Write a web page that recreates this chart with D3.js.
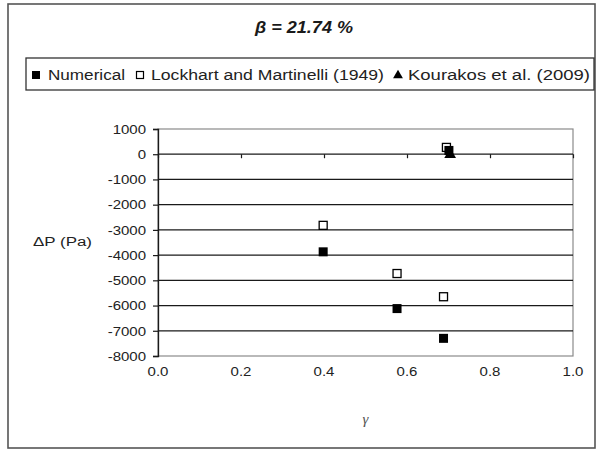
<!DOCTYPE html>
<html>
<head>
<meta charset="utf-8">
<script src="https://cdn.jsdelivr.net/npm/d3@7"></script>
<style>
  html, body { margin: 0; padding: 0; background: #fff; }
  svg { display: block; font-family: "Liberation Sans", Arial, sans-serif; }
</style>
</head>
<body>
<svg id="chart" width="597" height="451"></svg>
<script>
// Pressure drop versus gamma at beta = 21.74 %
const yTickValues = [1000, 0, -1000, -2000, -3000, -4000, -5000, -6000, -7000, -8000];
const xTickValues = [0.0, 0.2, 0.4, 0.6, 0.8, 1.0];

const numericalGamma = [0.398, 0.576, 0.688, 0.701];
const numericalDP    = [-3870, -6120, -7300, 150];

const lockhartGamma = [0.398, 0.576, 0.688, 0.695];
const lockhartDP    = [-2820, -4730, -5650, 270];

const kourakosGamma = [0.704];
const kourakosDP    = [-20];

const titleText = "β = 21.74 %";
const legendLabels = ["Numerical", "Lockhart and Martinelli (1949)", "Kourakos et al. (2009)"];

const svg = d3.select("#chart");
const ink = "#1a1a1a";

// outer chart frame
svg.append("rect")
  .attr("x", 8).attr("y", 4).attr("width", 587).attr("height", 444)
  .attr("fill", "#fff").attr("stroke", "#555").attr("stroke-width", 1.6);

// plot area
const plot = { left: 158, right: 573, top: 129, bottom: 356 };
const x = d3.scaleLinear().domain([0, 1]).range([plot.left, plot.right]);
const y = d3.scaleLinear().domain([-8000, 1000]).range([plot.bottom, plot.top]);

svg.append("rect")
  .attr("x", plot.left).attr("y", plot.top)
  .attr("width", plot.right - plot.left).attr("height", plot.bottom - plot.top)
  .attr("fill", "#fff").attr("stroke", "#8a8a8a").attr("stroke-width", 1.2);

// horizontal grid lines
svg.append("g").selectAll("line")
  .data(yTickValues.filter(v => v < 1000 && v > -8000))
  .join("line")
  .attr("x1", plot.left).attr("x2", plot.right)
  .attr("y1", d => y(d)).attr("y2", d => y(d))
  .attr("stroke", ink).attr("stroke-width", 1.2);

// y axis (plain hyphen for negatives)
const sx = 1.25;
const yAxis = svg.append("g")
  .attr("transform", `translate(${plot.left},0)`)
  .call(d3.axisLeft(y).tickValues(yTickValues).tickSize(5).tickFormat(d => String(d)));
yAxis.select(".domain").attr("stroke", ink).attr("stroke-width", 1.3);
yAxis.selectAll(".tick line").attr("stroke", ink).attr("stroke-width", 1.2);
yAxis.selectAll(".tick text")
  .attr("x", -12 / sx).attr("dy", "0.36em")
  .attr("transform", `scale(${sx},1)`)
  .attr("font-size", 12).attr("fill", "#222")
  .attr("font-family", "Liberation Sans, Arial, sans-serif");

// x axis through zero with downward ticks
const xAxis = svg.append("g")
  .attr("transform", `translate(0,${y(0)})`)
  .call(d3.axisBottom(x).tickValues(xTickValues).tickSize(4).tickFormat(""));
xAxis.select(".domain").remove();
xAxis.selectAll(".tick line").attr("stroke", ink).attr("stroke-width", 1.2);

// x tick labels below the plot
svg.append("g").selectAll("text")
  .data(xTickValues)
  .join("text")
  .attr("transform", d => `translate(${x(d)},376) scale(${sx},1)`)
  .attr("text-anchor", "middle")
  .attr("font-size", 12).attr("fill", "#222")
  .text(d3.format(".1f"));

// axis titles
svg.append("text")
  .attr("x", 33).attr("y", 246)
  .attr("font-size", 12.5).attr("fill", "#222")
  .attr("textLength", 59).attr("lengthAdjust", "spacingAndGlyphs")
  .text("ΔP (Pa)");

svg.append("text")
  .attr("x", x(0.5)).attr("y", 424)
  .attr("text-anchor", "middle")
  .attr("font-family", "Liberation Serif, Times New Roman, serif")
  .attr("font-style", "italic")
  .attr("font-size", 15).attr("fill", "#555")
  .text("γ");

// chart title
svg.append("text")
  .attr("x", 255).attr("y", 33)
  .attr("font-size", 16).attr("font-weight", "bold").attr("font-style", "italic")
  .attr("fill", ink)
  .attr("textLength", 98).attr("lengthAdjust", "spacingAndGlyphs")
  .text(titleText);

// legend box
svg.append("rect")
  .attr("x", 26).attr("y", 58).attr("width", 568).attr("height", 32)
  .attr("fill", "#fff").attr("stroke", "#333").attr("stroke-width", 1.3);

const legendY = 80;
const legendItems = [
  { kind: "filled", mx: 36, tx: 48, tw: 77 },
  { kind: "open", mx: 140, tx: 151, tw: 233 },
  { kind: "tri", mx: 398, tx: 408, tw: 182 }
];
const triPath = d3.symbol().type(d3.symbolTriangle).size(42)();

legendItems.forEach((it, i) => {
  const my = 75;
  if (it.kind === "filled") {
    svg.append("rect").attr("x", it.mx - 4).attr("y", my - 4).attr("width", 8).attr("height", 8)
      .attr("fill", "#000");
  } else if (it.kind === "open") {
    svg.append("rect").attr("x", it.mx - 3.5).attr("y", my - 3.5).attr("width", 7).attr("height", 7)
      .attr("fill", "#fff").attr("stroke", "#000").attr("stroke-width", 1.2);
  } else {
    svg.append("path").attr("d", triPath).attr("transform", `translate(${it.mx},${my + 0.5})`)
      .attr("fill", "#000");
  }
  svg.append("text")
    .attr("x", it.tx).attr("y", legendY)
    .attr("font-size", 15.5).attr("fill", "#222")
    .attr("textLength", it.tw).attr("lengthAdjust", "spacingAndGlyphs")
    .text(legendLabels[i]);
});

// data markers
const marks = svg.append("g");
const lockhart = lockhartGamma.map((g, i) => ({ g, v: lockhartDP[i] }));
const numerical = numericalGamma.map((g, i) => ({ g, v: numericalDP[i] }));
const kourakos = kourakosGamma.map((g, i) => ({ g, v: kourakosDP[i] }));

marks.selectAll(".lm").data(lockhart).join("rect")
  .attr("class", "lm")
  .attr("x", d => x(d.g) - 4).attr("y", d => y(d.v) - 4)
  .attr("width", 8).attr("height", 8)
  .attr("fill", "#fff").attr("stroke", "#000").attr("stroke-width", 1.3);

marks.selectAll(".nm").data(numerical).join("rect")
  .attr("class", "nm")
  .attr("x", d => x(d.g) - 4.5).attr("y", d => y(d.v) - 4.5)
  .attr("width", 9).attr("height", 9)
  .attr("fill", "#000");

marks.selectAll(".km").data(kourakos).join("path")
  .attr("class", "km")
  .attr("d", d3.symbol().type(d3.symbolTriangle).size(60)())
  .attr("transform", d => `translate(${x(d.g)},${y(d.v)})`)
  .attr("fill", "#000");
</script>
</body>
</html>
